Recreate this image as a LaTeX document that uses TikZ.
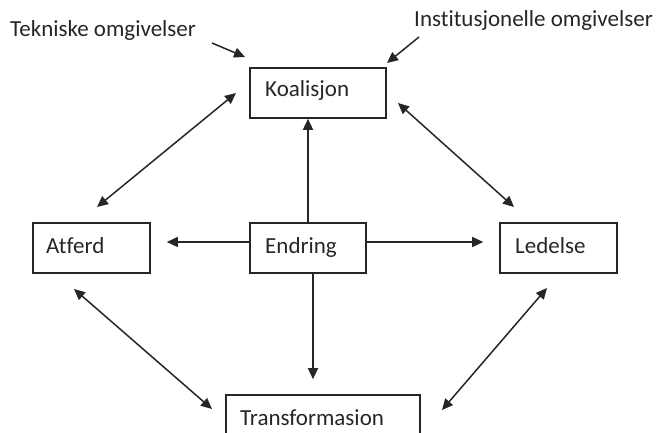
\documentclass[tikz,border=0pt]{standalone}
\usepackage{fontspec}
\setmainfont[Ligatures=NoCommon]{Carlito}
\usetikzlibrary{arrows.meta,calc}
\begin{document}
\begin{tikzpicture}[x=1pt,y=1pt,
  box/.style={draw=black!85,line width=1.6pt,rectangle,inner sep=0pt},
  lbl/.style={anchor=base west,inner sep=0pt,font=\fontsize{23}{27}\selectfont,text=black!85},
  arr/.style={line width=1.5pt,draw=black!85,-{Triangle[length=11pt,width=10pt]}},
  darr/.style={line width=1.5pt,draw=black!85,{Triangle[length=11pt,width=10pt]}-{Triangle[length=11pt,width=10pt]}}]
\useasboundingbox (0,0) rectangle (661,432);
\clip (0,0) rectangle (661,432);
% boxes
\node[box,minimum width=136pt,minimum height=50pt] (k) at (318,339) {};
\node[box,minimum width=117pt,minimum height=50pt] (a) at (91.5,184) {};
\node[box,minimum width=116pt,minimum height=50pt] (e) at (308,184) {};
\node[box,minimum width=117pt,minimum height=50pt] (l) at (558.5,184) {};
\node[box,minimum width=194pt,minimum height=50pt] (t) at (323,12) {};
% texts
\node[lbl] (kt) at (265,335) {Koalisjon};
\node[lbl] (at) at (46,179) {Atferd};
\node[lbl] (et) at (265,179) {Endring};
\node[lbl] (lt) at (515,179) {Ledelse};
\node[lbl] (tt) at (240,7) {Transformasion};
\node[lbl] (tek) at (10,395) {Tekniske omgivelser};
\node[lbl] (ins) at (414,405) {Institusjonelle omgivelser};
% free ends
\coordinate (tek1) at (212,389);
\coordinate (tek2) at (245,375);
\coordinate (ins1) at (419,395);
\coordinate (ins2) at (387,369);
\coordinate (ak1) at (97,225);
\coordinate (ak2) at (236,339);
\coordinate (kl1) at (398,329);
\coordinate (kl2) at (514,225);
\coordinate (at1) at (74,143);
\coordinate (at2) at (212,23);
\coordinate (lt1) at (547,144);
\coordinate (lt2) at (442,22);
% connectors
\draw[arr] (tek1) -- (tek2);
\draw[arr] (ins1) -- (ins2);
\draw[darr] (ak1) -- (ak2);
\draw[darr] (kl1) -- (kl2);
\draw[darr] (at1) -- (at2);
\draw[darr] (lt1) -- (lt2);
\draw[arr] (e.north) -- (e.north |- k.south);
\draw[arr] ($(e.west)+(0,6)$) -- ($(a.east)+(16,6)$);
\draw[arr] ($(e.east)+(0,6)$) -- ($(l.west)+(-16,6)$);
\draw[arr] ($(e.south)+(5,0)$) -- ($(t.north)+(-10,15)$);
\end{tikzpicture}
\end{document}
